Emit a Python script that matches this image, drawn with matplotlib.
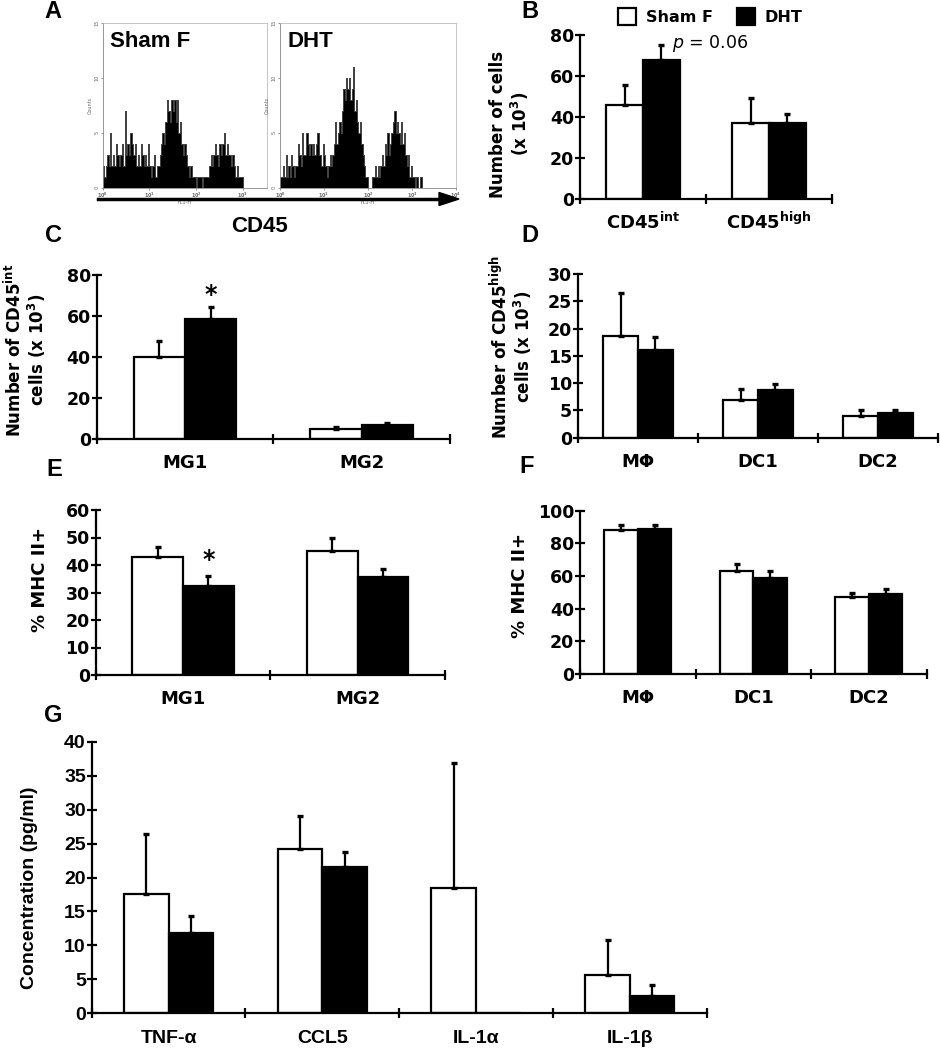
import matplotlib
matplotlib.use("Agg")
import matplotlib.pyplot as plt
import numpy as np
from matplotlib.patches import Rectangle, Polygon
from matplotlib.lines import Line2D
from matplotlib.transforms import IdentityTransform

plt.rcParams["font.family"] = ["DejaVu Sans"]
plt.rcParams["mathtext.fontset"] = "dejavusans"
plt.rcParams["mathtext.default"] = "bf"

# ---------------- data ----------------
# Panel A: flow histograms (counts per channel, 32 channels per decade from 10^0)
hist_sham = [2, 1, 2, 3, 2, 5, 2, 3, 2, 4, 3, 2, 3, 4, 2, 7, 3, 4, 3, 5, 4,
             3, 4, 2, 3, 2, 4, 3, 2, 3, 2, 4, 2, 1, 2, 3, 1, 2, 2, 3, 4, 5, 4,
             6, 8, 7, 6, 8, 7, 8, 6, 8, 5, 6, 4, 3, 4, 3, 2, 1, 2, 1,
             1, 1, 0, 1, 1, 1, 0, 1, 1, 1, 1, 2, 3, 2,
             3, 4, 3, 2, 4, 3, 4, 5, 3, 4, 3, 3, 2, 3, 2, 1, 2, 1, 1, 1]
hist_dht = [1, 1, 2, 1, 3, 1, 2, 1, 3, 2, 1, 2, 2, 4, 3, 2, 5, 3, 3, 5, 4, 3, 4,
            3, 4, 3, 4, 5, 3, 3, 2, 4, 3, 2, 1, 2, 3, 2, 3, 4, 6, 4, 5, 6, 5,
            7, 9, 8, 10, 9, 10, 8, 9, 11, 7, 8, 6, 5, 6, 4, 3, 2, 1, 1, 0, 0, 0,
            1, 1, 2, 1, 2, 1, 2, 3, 2, 4, 3, 5, 3, 4, 5, 6, 7, 5, 6, 5, 4, 6, 4, 5,
            3, 2, 3, 1, 2, 1, 1, 0, 1, 0, 0, 1]
hist_groups = ["Sham F", "DHT"]

groups = ["Sham F", "DHT"]

# Panel B
b_cats = ["CD45$^{int}$", "CD45$^{high}$"]
b_sham = [46.0, 37.0]
b_sham_err = [9.5, 12.5]
b_dht = [68.0, 37.0]
b_dht_err = [7.0, 4.5]

# Panel C
c_cats = ["MG1", "MG2"]
c_sham = [39.8, 4.7]
c_sham_err = [8.2, 1.3]
c_dht = [58.7, 6.8]
c_dht_err = [5.5, 1.0]

# Panel D
d_cats = ["MΦ", "DC1", "DC2"]
d_sham = [18.7, 6.9, 4.0]
d_sham_err = [7.8, 2.0, 1.1]
d_dht = [16.1, 8.7, 4.6]
d_dht_err = [2.3, 1.1, 0.4]

# Panel E
e_cats = ["MG1", "MG2"]
e_sham = [43.0, 45.2]
e_sham_err = [3.7, 4.8]
e_dht = [32.4, 35.8]
e_dht_err = [3.6, 2.7]

# Panel F
f_cats = ["MΦ", "DC1", "DC2"]
f_sham = [88.2, 63.0, 47.0]
f_sham_err = [3.2, 4.2, 2.4]
f_dht = [89.0, 58.6, 48.8]
f_dht_err = [2.4, 4.4, 3.2]

# Panel G
g_cats = ["TNF-α", "CCL5", "IL-1α", "IL-1β"]
g_sham = [17.6, 24.2, 18.5, 5.7]
g_sham_err = [8.8, 4.8, 18.3, 5.1]
g_dht = [11.8, 21.5, 0.0, 2.55]
g_dht_err = [2.6, 2.3, 0.0, 1.55]

# ---------------- figure ----------------
W, H = 940, 1050
fig = plt.figure(figsize=(W / 100, H / 100), dpi=100)


def px_axes(l, t, r, b):
    return fig.add_axes([l / W, 1 - b / H, (r - l) / W, (b - t) / H])


def ftext(x, y, s, **kw):
    fig.text(x / W, 1 - y / H, s, **kw)


LET = dict(family=["Liberation Sans", "DejaVu Sans"], fontweight="bold", fontsize=17,
           ha="center", va="center")

# ---- Panel A ----
hist_geom = [(102.7, 267.3, 10 ** 3.53), (280.0, 456.0, 10 ** 4)]
for (l, r, xmax), counts, name in zip(hist_geom, [hist_sham, hist_dht], hist_groups):
    ax = px_axes(l, 22.7, r, 187.7)
    counts = np.asarray(counts, float)
    edges = 10 ** (np.arange(len(counts) + 1) / 32.0)
    ax.stairs(counts, edges, fill=True, facecolor="black", edgecolor="black", lw=0.4)
    ax.stairs(counts, edges, color="#444444", lw=0.7)
    ax.set_xscale("log")
    ax.set_xlim(1, xmax)
    ax.set_ylim(0, 15)
    ax.set_yticks([0, 5, 10, 15])
    ax.set_yticklabels(["0", "5", "10", "15"], rotation=90, va="center")
    ax.minorticks_off()
    xt = [t for t in [1, 10, 100, 1000, 10000] if t <= xmax * 1.0001]
    ax.set_xticks(xt)
    ax.set_xticklabels(["$10^{%d}$" % int(np.log10(t)) for t in xt])
    ax.tick_params(labelsize=3.5, length=1.5, width=0.5, colors="#666666", pad=1)
    for s in ["left", "bottom"]:
        ax.spines[s].set_color("#888888")
        ax.spines[s].set_linewidth(0.6)
    for s in ["top", "right"]:
        ax.spines[s].set_color("#bbbbbb")
        ax.spines[s].set_linewidth(0.6)
    ax.set_ylabel("Counts", fontsize=3.5, color="#666666", labelpad=1)
    ax.set_xlabel("FL1-H", fontsize=3.5, color="#666666", labelpad=0)
    ax.text(0.045, 0.885, name, transform=ax.transAxes, ha="left", va="center",
            family=["Liberation Sans", "DejaVu Sans"], fontweight="bold", fontsize=16)

# arrow under histograms
fig.add_artist(Line2D([98, 445], [H - 199, H - 199], lw=2.5, color="black",
                      transform=IdentityTransform()))
fig.add_artist(Polygon([[439, H - 192.5], [459, H - 199], [439, H - 205.5]], closed=True,
                       color="black", transform=IdentityTransform()))
ftext(260, 226, "CD45", family=["Liberation Sans", "DejaVu Sans"], fontweight="bold",
      fontsize=16, ha="center", va="center")


# ---- bar panels ----
def bar_panel(rect, cats, sham, sham_err, dht, dht_err, ymax, yticks,
              tick_font=None, tick_size=12.5, cat_size=13, cat_pad=11):
    ax = px_axes(*rect)
    n = len(cats)
    x = np.arange(n)
    w = 0.29
    sham = np.asarray(sham, float)
    dht = np.asarray(dht, float)
    se = np.asarray(sham_err, float)
    de = np.asarray(dht_err, float)
    ax.bar(x - w / 2, sham, w, color="white", edgecolor="black", lw=1.6, zorder=2)
    ax.bar(x + w / 2, dht, w, color="black", edgecolor="black", lw=1.6, zorder=2)
    for xs, v, e in [(x - w / 2, sham, se), (x + w / 2, dht, de)]:
        m = e > 0
        ax.errorbar(xs[m], v[m], yerr=[np.zeros(m.sum()), e[m]], fmt="none",
                    ecolor="black", elinewidth=1.6, capsize=2.4, capthick=2.4, zorder=3)
    ax.set_xlim(-0.5, n - 0.5)
    ax.set_ylim(0, ymax)
    ax.set_yticks(yticks)
    ax.set_xticks(x)
    ax.set_xticks(np.arange(n + 1) - 0.5, minor=True)
    ax.set_xticklabels(cats)
    for s in ["top", "right"]:
        ax.spines[s].set_visible(False)
    for s in ["left", "bottom"]:
        ax.spines[s].set_linewidth(1.6)
        ax.spines[s].set_zorder(5)
    ax.tick_params(axis="x", which="major", length=0, pad=cat_pad, labelsize=cat_size)
    ax.tick_params(axis="x", which="minor", direction="inout", length=6.5, width=1.6)
    ax.tick_params(axis="y", direction="inout", length=6.5, width=1.6, pad=1,
                   labelsize=tick_size)
    fam = tick_font if tick_font else ["DejaVu Sans"]
    for lab in ax.get_xticklabels() + ax.get_yticklabels():
        lab.set_fontweight("bold")
        lab.set_family(fam)
    return ax


# B
axB = bar_panel((580, 35, 832, 199.3), b_cats, b_sham, b_sham_err, b_dht, b_dht_err,
                80, [0, 20, 40, 60, 80], cat_pad=9)
# C
axC = bar_panel((96.7, 275, 450, 439), c_cats, c_sham, c_sham_err, c_dht, c_dht_err,
                80, [0, 20, 40, 60, 80])
axC.annotate("*", xy=(0.145, c_dht[0] + c_dht_err[0]), xytext=(0, 0),
             textcoords="offset points", ha="center", va="bottom",
             fontsize=17, fontweight="bold")
# D
axD = bar_panel((578, 274, 938, 437.7), d_cats, d_sham, d_sham_err, d_dht, d_dht_err,
                30, [0, 5, 10, 15, 20, 25, 30])
# E
axE = bar_panel((95.7, 510, 445, 675), e_cats, e_sham, e_sham_err, e_dht, e_dht_err,
                60, [0, 10, 20, 30, 40, 50, 60])
axE.annotate("*", xy=(0.145, e_dht[0] + e_dht_err[0]), xytext=(0, 3),
             textcoords="offset points", ha="center", va="bottom",
             fontsize=17, fontweight="bold")
# F
axF = bar_panel((580, 510.7, 926.7, 674), f_cats, f_sham, f_sham_err, f_dht, f_dht_err,
                100, [0, 20, 40, 60, 80, 100])
# G
axG = bar_panel((91.7, 741.7, 706.7, 1013.3), g_cats, g_sham, g_sham_err, g_dht, g_dht_err,
                40, [0, 5, 10, 15, 20, 25, 30, 35, 40],
                tick_font=["Liberation Sans", "DejaVu Sans"], tick_size=14, cat_size=14,
                cat_pad=12)

# y labels
YL = dict(fontweight="bold", rotation=90, ha="center", va="center", multialignment="center",
          linespacing=1.05)
ftext(510, 124, "Number of cells\n(x 10$^3$)", fontsize=12, **YL)
ftext(26, 350, "Number of CD45$^{int}$\ncells (x 10$^3$)", fontsize=12, **YL)
ftext(512, 347, "Number of CD45$^{high}$\ncells (x 10$^3$)", fontsize=12, **YL)
ftext(40, 580, "% MHC II+", fontsize=13, **YL)
ftext(520, 586, "% MHC II+", fontsize=13, **YL)
ftext(30, 888, "Concentration (pg/ml)", fontsize=14,
      family=["Liberation Sans", "DejaVu Sans"], **YL)

# legend (panel B)
for (x0, fc), name in zip([(618, "white"), (737, "black")], groups):
    fig.add_artist(Rectangle((x0, H - 25), 18, 17, facecolor=fc, edgecolor="black",
                             lw=1.6, transform=IdentityTransform()))
    ftext(x0 + 28, 17, name, fontsize=11.5, fontweight="bold", ha="left", va="center")

ftext(672, 44, r"$\mathit{p}$ = 0.06", fontsize=12.5, ha="left", va="center")

# panel letters
for letter, (x, y) in zip("ABCDEFG", [(53, 12), (530, 11), (53, 235), (530, 235),
                                      (54, 469), (527, 467), (53, 715)]):
    ftext(x, y, letter, **LET)

fig.savefig("out.png", dpi=100)
